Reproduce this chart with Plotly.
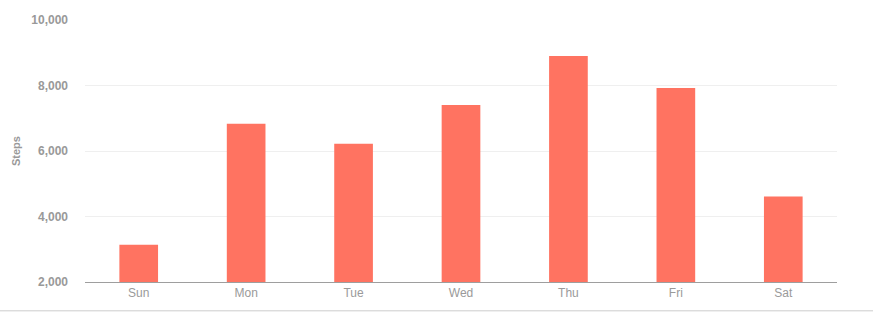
import plotly.graph_objects as go

days = ["Sun", "Mon", "Tue", "Wed", "Thu", "Fri", "Sat"]
steps = [3140, 6830, 6220, 7405, 8900, 7925, 4610]
y_ticks = [2000, 4000, 6000, 8000, 10000]
y_tick_labels = ["2,000", "4,000", "6,000", "8,000", "10,000"]

fig = go.Figure(go.Bar(x=days, y=steps, marker=dict(color="#FF7361", line=dict(width=0))))

fig.update_layout(
    width=873, height=312,
    margin=dict(l=85, r=36, t=20, b=30),
    paper_bgcolor="white", plot_bgcolor="white",
    bargap=0.64,
    showlegend=False,
    font=dict(family="Liberation Sans, Arial, sans-serif", color="#999999"),
)
fig.update_xaxes(
    showline=True, linecolor="#9e9e9e", linewidth=1, automargin=False,
    showgrid=False, ticks="", tickfont=dict(size=12, color="#9a9a9a"),
)
fig.update_yaxes(
    range=[2000, 10000], tickvals=y_ticks, ticktext=y_tick_labels,
    showgrid=True, gridcolor="#efefef", gridwidth=1, automargin=False,
    zeroline=False, ticks="", ticklabelstandoff=16,
    tickfont=dict(size=12, color="#999999", weight="bold"),
    title=dict(text="Steps", font=dict(size=11, color="#999999", weight="bold"), standoff=8),
)
fig.add_shape(type="line", xref="paper", yref="paper", x0=-0.2, x1=1.1, y0=-0.11, y1=-0.11,
              line=dict(color="#cccccc", width=1))
fig.write_html("out.html")
